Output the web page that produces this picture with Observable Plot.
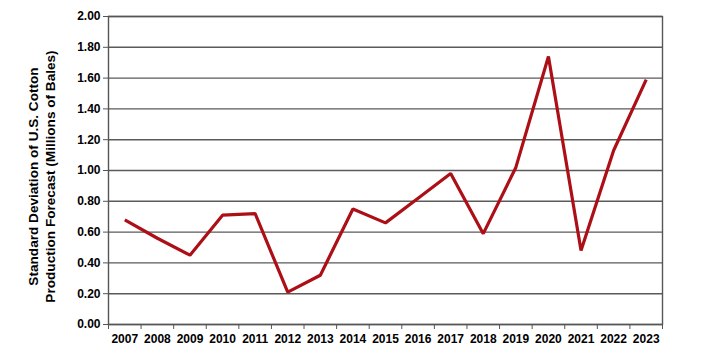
<!DOCTYPE html>
<html>
<head>
<meta charset="utf-8">
<script src="https://cdn.jsdelivr.net/npm/d3@7"></script>
<script src="https://cdn.jsdelivr.net/npm/@observablehq/plot@0.6"></script>
<style>
  html, body { margin: 0; padding: 0; background: #fff; }
  svg { font-family: "Liberation Sans", Arial, sans-serif; }
</style>
</head>
<body>
<div id="chart"></div>
<script>
const years = [2007, 2008, 2009, 2010, 2011, 2012, 2013, 2014, 2015, 2016, 2017, 2018, 2019, 2020, 2021, 2022, 2023];
const stdDev = [0.68, 0.56, 0.45, 0.71, 0.72, 0.21, 0.32, 0.75, 0.66, 0.82, 0.98, 0.59, 1.02, 1.74, 0.48, 1.13, 1.59];
const yTicks = [0, 0.2, 0.4, 0.6, 0.8, 1.0, 1.2, 1.4, 1.6, 1.8, 2.0];
const yTitle = "Standard Deviation of U.S. Cotton\nProduction Forecast (Millions of Bales)";

const data = years.map((y, i) => ({year: y, value: stdDev[i]}));
const boundaries = d3.range(years[0] - 0.5, years[years.length - 1] + 1, 1);

const chart = Plot.plot({
  width: 720,
  height: 359,
  marginLeft: 108,
  marginRight: 58,
  marginTop: 16,
  marginBottom: 35,
  style: {fontFamily: '"Liberation Sans", Arial, sans-serif', fontWeight: "bold", fontSize: "12px", color: "#000", background: "#fff"},
  x: {type: "linear", domain: [years[0] - 0.5, years[years.length - 1] + 0.5]},
  y: {domain: [0, 2]},
  marks: [
    Plot.gridY(yTicks, {stroke: "#5a5a5a", strokeOpacity: 1, strokeWidth: 1.4}),
    Plot.frame({stroke: "#555", strokeWidth: 1.4}),
    Plot.axisY({ticks: yTicks, tickFormat: d => d.toFixed(2), tickSize: 5, tickPadding: 3, label: null, stroke: "#555", fontSize: 12, fontWeight: "bold"}),
    Plot.axisX({ticks: boundaries, tickFormat: () => "", tickSize: 5, label: null, stroke: "#555"}),
    Plot.axisX({ticks: years, tickFormat: d => String(d), tickSize: 0, tickPadding: 10, label: null, fontSize: 12, fontWeight: "bold"}),
    Plot.line(data, {x: "year", y: "value", stroke: "#ad0f17", strokeWidth: 3.2, strokeLinejoin: "miter", strokeLinecap: "butt"}),
    Plot.text([yTitle], {frameAnchor: "left", textAnchor: "middle", lineAnchor: "middle", rotate: -90, dx: -67, dy: 6, fontSize: 13.6, fontWeight: "bold", lineHeight: 1.25, fill: "#000"})
  ]
});
document.getElementById("chart").append(chart);
</script>
</body>
</html>
